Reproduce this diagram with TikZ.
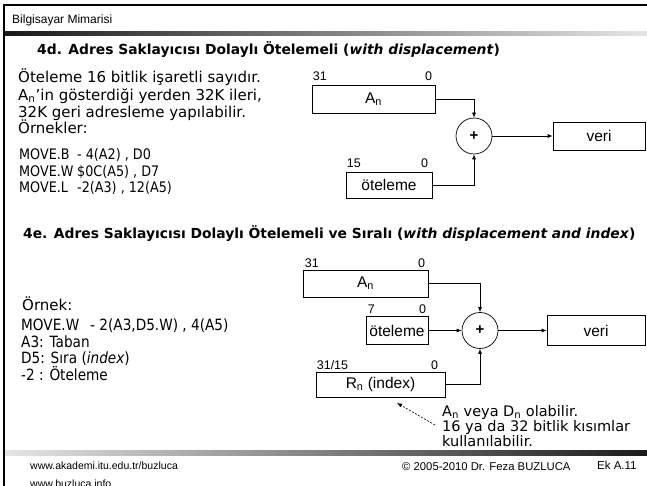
\documentclass[tikz,border=0pt]{standalone}
\usepackage{fontspec}
\setmainfont{Liberation Sans}
\newfontfamily\comicfont{DejaVu Sans}
\newfontfamily\codefont[FakeStretch=0.88]{DejaVu Sans}
\usetikzlibrary{arrows.meta}

\begin{document}
\begin{tikzpicture}[x=1pt,y=-1pt,
		>={Latex[length=5pt,width=4pt]},
		every node/.style={inner sep=0pt},
		reg/.style={draw,line width=0.7pt,font=\fontsize{15.5}{18}\selectfont},
		bitno/.style={font=\fontsize{12.5}{14}\selectfont},
		adder/.style={draw,line width=0.7pt,circle,minimum size=36pt,font=\bfseries\fontsize{15}{15}\selectfont},
		ttl/.style={anchor=base west,font=\comicfont\bfseries\fontsize{13.85}{17}\selectfont},
		txt/.style={anchor=base west,font=\comicfont\fontsize{15}{17}\selectfont},
		note/.style={anchor=base west,font=\comicfont\fontsize{14.5}{15}\selectfont},
		code/.style={anchor=base west,font=\codefont\fontsize{14.5}{17}\selectfont},
		codeb/.style={anchor=base west,font=\codefont\fontsize{15.5}{17}\selectfont},
		foot/.style={anchor=base west,font=\fontsize{10.5}{12}\selectfont},
		wire/.style={->,line width=0.7pt}]

	\clip (0,0) rectangle (647,486);

	%% frame and bars
	\draw[line width=2pt] (3,5) -- (647,5);
	\draw[line width=2pt] (4,5) -- (4,486);
	\shade[left color=black!90,right color=black!10] (5,32) rectangle (647,36);
	\shade[left color=black!10,right color=black!90] (5,450) rectangle (647,455);

	\node[anchor=base west,font=\fontsize{12}{14}\selectfont] (Hdr) at (12,24) {Bilgisayar Mimarisi};

	%% 4d
	\node[ttl] (Ttl4d) at (37,54.5) {4d. Adres Saklayıcısı Dolaylı Ötelemeli (\textit{with displacement})};

	\node[txt] (Txt4dA) at (18,82.4) {Öteleme 16 bitlik işaretli sayıdır.};
	\node[txt] (Txt4dB) at (18,100.4) {A\textsubscript{n}’in gösterdiği yerden 32K ileri,};
	\node[txt] (Txt4dC) at (18,117.4) {32K geri adresleme yapılabilir.};
	\node[txt] (Txt4dD) at (18,133.4) {Örnekler:};

	\node[code] (Mn4dA) at (19,159.5) {MOVE.B};
	\node[code] (Op4dA) at (77,159.5) {- 4(A2) , D0};
	\node[code] (Mn4dB) at (19,176.5) {MOVE.W};
	\node[code] (Op4dB) at (77,176.5) {\$0C(A5) , D7};
	\node[code] (Mn4dC) at (19,192.5) {MOVE.L};
	\node[code] (Op4dC) at (77,192.5) {-2(A3) , 12(A5)};

	\node[reg,minimum width=123pt,minimum height=28pt] (An4d) at (373.5,99) {A\textsubscript{n}};
	\node[reg,minimum width=86pt,minimum height=26pt] (Off4d) at (389,185) {öteleme};
	\node[adder] (Sum4d) at (474,136) {+};
	\node[reg,minimum width=92pt,minimum height=28pt] (Veri4d) at (599,136) {veri};

	\node[bitno,anchor=base west] (An4dHi) at ([xshift=1pt,yshift=4.5pt]An4d.north west) {31};
	\node[bitno,anchor=base east] (An4dLo) at ([xshift=-3pt,yshift=4.5pt]An4d.north east) {0};
	\node[bitno,anchor=base west] (Off4dHi) at ([xshift=1pt,yshift=4.5pt]Off4d.north west) {15};
	\node[bitno,anchor=base east] (Off4dLo) at ([xshift=-4pt,yshift=4.5pt]Off4d.north east) {0};

	\draw[wire] (An4d.east) -| (Sum4d.north);
	\draw[wire] (Off4d.east) -| (Sum4d.south);
	\draw[wire] (Sum4d) -- (Veri4d);

	%% 4e
	\node[ttl] (Ttl4e) at (23,238) {4e. Adres Saklayıcısı Dolaylı Ötelemeli ve Sıralı (\textit{with displacement and index})};

	\node[txt] (Txt4eA) at (22,310.4) {Örnek:};
	\node[codeb] (Mn4eA) at (21,330) {MOVE.W};
	\node[codeb] (Op4eA) at (90,330) {- 2(A3,D5.W) , 4(A5)};
	\node[codeb] (Txt4eB) at (21,347) {A3: Taban};
	\node[codeb] (Txt4eC) at (21,363) {D5: Sıra (\textit{index})};
	\node[codeb] (Txt4eD) at (21,380) {-2 : Öteleme};

	\node[reg,minimum width=125pt,minimum height=27pt] (An4e) at (365.5,283.5) {A\textsubscript{n}};
	\node[reg,minimum width=62pt,minimum height=28pt] (Off4e) at (397,330.5) {öteleme};
	\node[reg,minimum width=129pt,minimum height=25pt] (Idx4e) at (380.5,384.5) {R\textsubscript{n} (index)};
	\node[adder] (Sum4e) at (480,330.5) {+};
	\node[reg,minimum width=98pt,minimum height=30pt] (Veri4e) at (596,330.5) {veri};

	\node[bitno,anchor=base west] (An4eHi) at ([xshift=2pt,yshift=2.5pt]An4e.north west) {31};
	\node[bitno,anchor=base east] (An4eLo) at ([xshift=-3pt,yshift=2.5pt]An4e.north east) {0};
	\node[bitno,anchor=base west] (Off4eHi) at ([xshift=2pt,yshift=2.5pt]Off4e.north west) {7};
	\node[bitno,anchor=base east] (Off4eLo) at ([xshift=-2pt,yshift=2.5pt]Off4e.north east) {0};
	\node[bitno,anchor=base west] (Idx4eHi) at ([xshift=1pt,yshift=2.5pt]Idx4e.north west) {31/15};
	\node[bitno,anchor=base east] (Idx4eLo) at ([xshift=-7pt,yshift=2.5pt]Idx4e.north east) {0};

	\draw[wire] (An4e.east) -| (Sum4e.north);
	\draw[wire] (Off4e) -- (Sum4e);
	\draw[wire] (Idx4e.east) -| (Sum4e.south);
	\draw[wire] (Sum4e) -- (Veri4e);

	%% note on the index register
	\coordinate (NoteTip) at (397,403);
	\coordinate (NoteTail) at (435,425);
	\draw[->,dashed,line width=0.6pt,dash pattern=on 2pt off 1.5pt] (NoteTail) -- (NoteTip);
	\node[note] (NoteA) at (442,416.5) {A\textsubscript{n} veya D\textsubscript{n} olabilir.};
	\node[note] (NoteB) at (442,431.5) {16 ya da 32 bitlik kısımlar};
	\node[note] (NoteC) at (442,446) {kullanılabilir.};

	%% footer
	\node[foot] (Url1) at (30,469) {www.akademi.itu.edu.tr/buzluca};
	\node[foot] (Url2) at (30,487.5) {www.buzluca.info};
	\node[anchor=base west,font=\fontsize{11.3}{13}\selectfont] (Copy) at (402,470) {© 2005-2010  Dr. Feza BUZLUCA};
	\node[anchor=base west,font=\fontsize{11.5}{13}\selectfont] (Page) at (597,469) {Ek A.11};
\end{tikzpicture}
\end{document}
